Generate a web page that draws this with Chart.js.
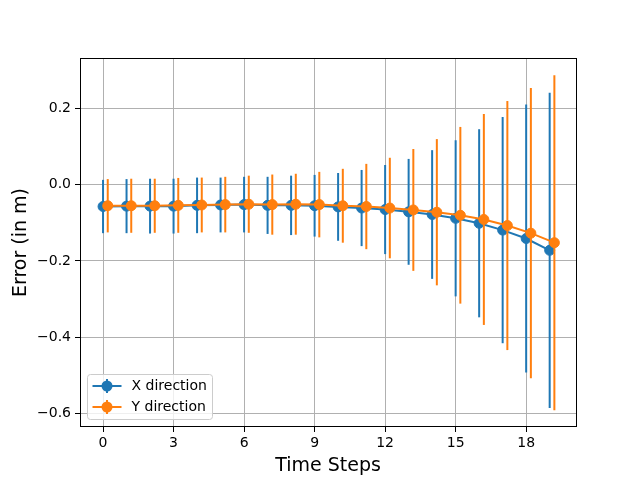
<!DOCTYPE html>
<html>
<head>
<meta charset="utf-8">
<script src="https://cdn.jsdelivr.net/npm/chart.js@4.4.1/dist/chart.umd.min.js"></script>
<style>
  html, body { margin: 0; padding: 0; background: #fff; }
  canvas { display: block; }
</style>
</head>
<body>
<canvas id="c" width="640" height="480"></canvas>
<script>
// ---- data ----
const steps = [0,1,2,3,4,5,6,7,8,9,10,11,12,13,14,15,16,17,18,19];
const xMean = [-0.057,-0.056,-0.056,-0.056,-0.054,-0.053,-0.052,-0.054,-0.054,-0.055,
               -0.058,-0.061,-0.065,-0.071,-0.078,-0.088,-0.101,-0.119,-0.141,-0.172];
const xErr  = [0.070,0.071,0.072,0.072,0.073,0.072,0.073,0.075,0.078,0.081,
               0.089,0.100,0.117,0.139,0.169,0.205,0.247,0.297,0.352,0.414];
const yMean = [-0.055,-0.055,-0.055,-0.054,-0.053,-0.052,-0.051,-0.052,-0.051,-0.052,
               -0.055,-0.057,-0.061,-0.066,-0.072,-0.080,-0.091,-0.107,-0.127,-0.152];
const yErr  = [0.070,0.071,0.071,0.072,0.072,0.073,0.075,0.079,0.080,0.086,
               0.097,0.112,0.132,0.160,0.192,0.232,0.277,0.327,0.381,0.440];
const yOffset = 0.2;
const xTickValues = [0,3,6,9,12,15,18];
const yTickValues = [-0.6,-0.4,-0.2,0.0,0.2];
const seriesLabels = ['X direction','Y direction'];
const seriesColors = ['#1f77b4','#ff7f0e'];

const FONT = "'DejaVu Sans', sans-serif";
const errs = [xErr, yErr];

function fmtY(v){
  const s = Math.abs(v).toFixed(1);
  return (v < -1e-9 ? '\u2212' : '') + s;
}

const errorBarPlugin = {
  id: 'errorBars',
  beforeDatasetDraw(chart, args) {
    const ctx = chart.ctx;
    const ys = chart.scales.y;
    const ds = chart.data.datasets[args.index];
    const e = errs[ds.errIndex];
    ctx.save();
    ctx.strokeStyle = ds.borderColor;
    ctx.lineWidth = 2;
    args.meta.data.forEach((pt, i) => {
      const v = ds.data[i].y;
      const y1 = ys.getPixelForValue(v + e[i]);
      const y2 = ys.getPixelForValue(v - e[i]);
      ctx.beginPath();
      ctx.moveTo(pt.x, y1);
      ctx.lineTo(pt.x, y2);
      ctx.stroke();
    });
    ctx.restore();
  }
};

const framePlugin = {
  id: 'frame',
  beforeDatasetsDraw(chart) {
    const a = chart.chartArea, ctx = chart.ctx;
    ctx.save();
    ctx.strokeStyle = '#000';
    ctx.lineWidth = 1;
    ctx.strokeRect(Math.round(a.left) + 0.5, Math.round(a.top) + 0.5,
                   Math.round(a.right - a.left), Math.round(a.bottom - a.top) - 1);
    ctx.restore();
  },
  afterDraw(chart) {
    const ctx = chart.ctx;
    const a = chart.chartArea;
    const bx = a.left + 7.5, by = a.bottom - 52.5, bw = 125, bh = 45;
    ctx.save();
    ctx.beginPath();
    ctx.roundRect(bx, by, bw, bh, 3);
    ctx.fillStyle = 'rgba(255,255,255,0.8)';
    ctx.fill();
    ctx.strokeStyle = '#cccccc';
    ctx.lineWidth = 1;
    ctx.stroke();
    seriesLabels.forEach((lab, i) => {
      const cy = by + 11.5 + i * 21;
      const col = seriesColors[i];
      ctx.strokeStyle = col;
      ctx.lineWidth = 2;
      ctx.beginPath();
      ctx.moveTo(bx + 5, cy); ctx.lineTo(bx + 34, cy);
      ctx.moveTo(bx + 19.5, cy - 7); ctx.lineTo(bx + 19.5, cy + 7);
      ctx.stroke();
      ctx.beginPath();
      ctx.arc(bx + 19.5, cy, 5.5, 0, Math.PI * 2);
      ctx.fillStyle = col;
      ctx.fill();
      ctx.fillStyle = '#000';
      ctx.font = '14px ' + FONT;
      ctx.textBaseline = 'middle';
      ctx.textAlign = 'left';
      ctx.fillText(lab, bx + 44, cy + 0.5);
    });
    ctx.restore();
  }
};

const datasets = [
  {
    label: seriesLabels[0], errIndex: 0, order: 1,
    data: steps.map((s, i) => ({x: s, y: xMean[i]})),
    borderColor: seriesColors[0], backgroundColor: seriesColors[0],
    showLine: true, borderWidth: 2, tension: 0,
    pointRadius: 5, pointBorderWidth: 1, pointBackgroundColor: seriesColors[0], pointBorderColor: seriesColors[0]
  },
  {
    label: seriesLabels[1], errIndex: 1, order: 0,
    data: steps.map((s, i) => ({x: s + yOffset, y: yMean[i]})),
    borderColor: seriesColors[1], backgroundColor: seriesColors[1],
    showLine: true, borderWidth: 2, tension: 0,
    pointRadius: 5, pointBorderWidth: 1, pointBackgroundColor: seriesColors[1], pointBorderColor: seriesColors[1]
  }
];

new Chart(document.getElementById('c'), {
  type: 'scatter',
  data: { datasets },
  plugins: [errorBarPlugin, framePlugin],
  options: {
    responsive: false,
    animation: false,
    devicePixelRatio: 1,
    layout: { padding: { left: 0, right: 64, top: 58, bottom: 0 } },
    plugins: { legend: { display: false }, tooltip: { enabled: false } },
    scales: {
      x: {
        type: 'linear', min: -0.98, max: 20.12,
        afterBuildTicks: s => { s.ticks = xTickValues.map(v => ({value: v})); },
        afterFit: s => { s.height = 53; },
        grid: { color: '#b0b0b0', lineWidth: 1, tickColor: '#000', tickLength: 5, drawTicks: true },
        border: { display: false },
        ticks: { color: '#000', font: { family: FONT, size: 14 }, padding: 3, maxRotation: 0,
                 callback: v => String(v) },
        title: { display: true, text: 'Time Steps', color: '#000',
                 font: { family: FONT, size: 19 }, padding: { top: 0, bottom: 3 } }
      },
      y: {
        type: 'linear', min: -0.636, max: 0.333,
        afterBuildTicks: s => { s.ticks = yTickValues.map(v => ({value: v})); },
        afterFit: s => { s.width = 80; },
        grid: { color: '#b0b0b0', lineWidth: 1, tickColor: '#000', tickLength: 5, drawTicks: true },
        border: { display: false },
        ticks: { color: '#000', font: { family: FONT, size: 14 }, padding: 4,
                 callback: v => fmtY(v) },
        title: { display: true, text: 'Error (in m)', color: '#000',
                 font: { family: FONT, size: 19 }, padding: { top: 10, bottom: 0 } }
      }
    }
  }
});
</script>
</body>
</html>
